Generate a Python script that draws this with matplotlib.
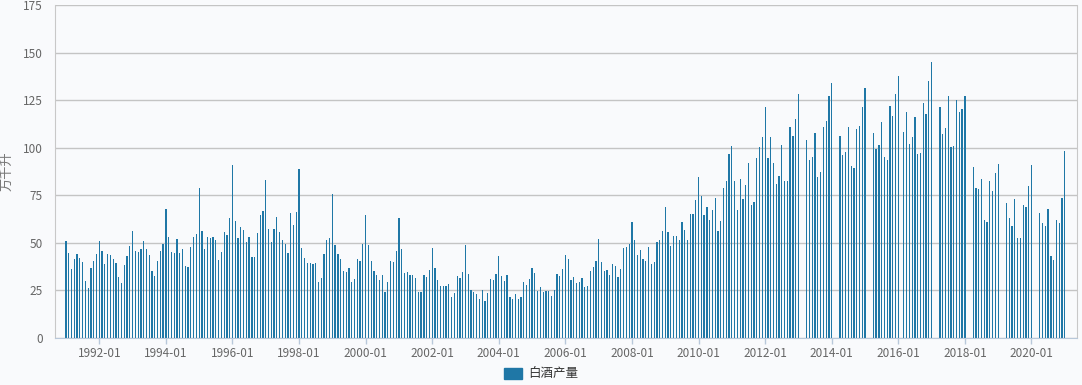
import numpy as np
import matplotlib
matplotlib.use("Agg")
import matplotlib.pyplot as plt
from matplotlib.patches import Patch


# ==========================
# Data (monthly, 10k kL)
# position 0 = "1991-01" on the axis
# ==========================

output = [
    50.9, 44.4, 36.0, 41.3, 43.9, 41.8, 39.7, 29.7, 26.2, 36.5, 40.2, 43.9,
    50.9, 45.5, 38.6, 43.9, 43.4, 41.3, 39.2, 31.8, 28.7, 38.1, 42.8, 48.1,
    56.1, 45.5, 44.9, 46.5, 50.7, 46.5, 43.4, 35.0, 32.3, 40.2, 45.5, 49.1,
    67.5, 52.8, 44.9, 44.4, 51.7, 44.4, 46.5, 37.6, 37.1, 47.6, 52.8, 54.4,
    79.0, 55.9, 46.5, 52.8, 52.3, 52.8, 51.2, 40.7, 44.9, 55.4, 53.8, 62.8,
    91.1, 61.2, 52.3, 58.0, 56.5, 50.2, 52.8, 42.3, 42.3, 54.9, 64.8, 66.9,
    83.0, 57.2, 50.4, 57.2, 63.6, 55.6, 51.4, 49.3, 44.5, 65.7, 59.3, 66.2,
    89.0, 47.2, 41.9, 39.3, 39.3, 38.7, 39.3, 29.2, 31.3, 44.0, 51.4, 52.5,
    75.7, 48.8, 44.0, 41.4, 35.0, 34.5, 36.6, 29.2, 30.8, 41.4, 40.3, 49.3,
    64.6, 48.8, 40.3, 35.0, 32.9, 30.3, 32.9, 23.9, 29.2, 40.3, 39.8, 45.6,
    63.0, 46.7, 34.0, 34.5, 32.9, 32.9, 31.3, 23.9, 23.9, 32.9, 31.9, 35.6,
    47.2, 36.6, 30.3, 27.1, 27.1, 27.1, 28.2, 21.3, 23.4, 32.4, 31.3, 34.5,
    48.8, 33.5, 25.0, 23.9, 22.9, 20.2, 25.0, 19.2, 23.4, 30.8, 30.3, 33.5,
    43.0, 32.4, 29.8, 32.9, 21.3, 20.2, 22.9, 20.2, 21.3, 29.2, 27.6, 30.8,
    36.6, 34.0, 24.5, 26.6, 23.9, 24.5, 24.5, 21.8, 25.0, 33.5, 32.4, 36.1,
    43.5, 41.4, 30.3, 31.9, 28.7, 29.2, 31.3, 26.6, 27.1, 35.0, 37.1, 40.3,
    51.9, 39.8, 35.0, 35.6, 32.9, 38.7, 37.7, 31.9, 36.1, 47.2, 47.7, 49.3,
    60.9, 51.4, 43.5, 46.1, 41.4, 40.3, 47.7, 38.7, 39.8, 50.4, 51.4, 56.2,
    68.8, 55.7, 48.3, 53.6, 53.6, 51.5, 60.9, 56.7, 51.5, 65.1, 65.1, 72.5,
    84.6, 74.6, 64.6, 68.8, 62.0, 67.3, 73.6, 56.2, 61.5, 78.8, 82.5, 96.7,
    100.9, 82.5, 67.3, 83.5, 73.0, 80.4, 91.9, 69.9, 71.5, 94.6, 100.4, 105.6,
    121.4, 94.6, 105.6, 91.9, 80.9, 85.1, 101.4, 82.5, 82.5, 110.9, 106.1, 115.1,
    128.2, None, None, 104.0, 93.5, 95.1, 107.7, 84.6, 87.2, 110.9, 114.0, 127.1,
    134.0, None, None, 106.1, 96.1, 97.7, 110.9, 90.4, 89.3, 109.8, 111.4, 121.4,
    131.3, None, None, 107.7, 99.3, 101.4, 113.5, 95.1, 93.5, 121.9, 116.6, 128.2,
    137.7, None, 108.2, 118.7, 101.9, 105.6, 116.1, 96.7, 97.2, 123.5, 117.7, 135.0,
    145.0, None, None, 121.4, 107.2, 110.3, 127.1, 100.4, 100.9, 125.0, 118.7, 120.3,
    127.1, None, None, 89.8, 78.8, 78.3, 83.5, 62.0, 60.9, 82.5, 77.2, 86.7,
    91.4, None, None, 70.9, 63.0, 58.8, 73.0, 52.5, 52.5, 69.9, 68.8, 79.9,
    90.9, None, None, 65.7, 60.4, 58.8, 67.8, 43.1, 41.0, 62.0, 60.4, 73.6,
    98.2,
]

tick_years = list(range(1992, 2021, 2))
tick_labels = [f"{y}-01" for y in tick_years]

series_name = "白酒产量"
unit = "万千升"


# ==========================
# Style
# ==========================

plt.rcParams["font.family"] = ["Noto Sans CJK SC", "DejaVu Sans"]

bar_color = "#1f77a6"
bg = "#f9fafc"
grid_color = "#c4c4c4"
text_color = "#666666"


# ==========================
# Plot
# ==========================

vals = np.array([np.nan if v is None else v for v in output], dtype=float)
x = np.arange(len(vals))
ok = ~np.isnan(vals)

fig = plt.figure(figsize=(10.82, 3.85), dpi=100, facecolor=bg)
ax = fig.add_axes([0.0511, 0.1229, 0.944, 0.864])
ax.set_facecolor(bg)

ax.bar(x[ok], vals[ok], width=0.45, color=bar_color, zorder=3)

ax.set_xlim(-3.86, 364.3)
ax.set_ylim(0, 175)
ax.set_yticks(np.arange(0, 176, 25))

tick_pos = [(y - 1991) * 12 for y in tick_years]
ax.set_xticks(tick_pos)
ax.set_xticklabels(tick_labels)

ax.grid(axis="y", color=grid_color, linewidth=1, zorder=0)
ax.grid(axis="x", visible=False)

for side in ["left", "right"]:
    ax.spines[side].set_color("#c8c8c8")
ax.spines["top"].set_visible(False)
ax.spines["bottom"].set_color("#b8c8da")
ax.spines["bottom"].set_zorder(4)

ax.tick_params(axis="y", length=0, pad=9, labelsize=8.5, labelcolor=text_color)
ax.tick_params(axis="x", length=4, width=1, color="#b8c8da", pad=3,
               labelsize=8.5, labelcolor=text_color)

ax.set_ylabel(unit, fontsize=9.5, color="#777777")
ax.yaxis.set_label_coords(-0.041, 0.5)

handle = Patch(facecolor=bar_color, edgecolor=bar_color)
fig.legend([handle], [series_name], loc="center",
           bbox_to_anchor=(0.5, 1 - 374 / 385), frameon=False,
           fontsize=9, handlelength=1.4, handleheight=1.0,
           handletextpad=0.5, labelcolor="#333333")

fig.savefig("out.png", dpi=100, facecolor=bg)
plt.close(fig)
